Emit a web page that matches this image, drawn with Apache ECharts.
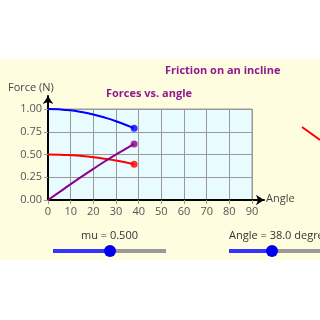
<!DOCTYPE html>
<html><head><meta charset="utf-8">
<script src="https://cdn.jsdelivr.net/npm/echarts@6/dist/echarts.min.js"></script>
<style>html,body{margin:0;padding:0;background:#fff}#c{width:320px;height:320px}</style>
</head><body><div id="c"></div>
<script>
const angles = [0, 5, 10, 15, 20, 25, 30, 35, 38];
const normalForce = [1.00, 0.996, 0.985, 0.966, 0.94, 0.906, 0.866, 0.819, 0.788];
const frictionForce = [0.50, 0.498, 0.492, 0.483, 0.47, 0.453, 0.433, 0.41, 0.394];
const gravityAlong = [0.00, 0.087, 0.174, 0.259, 0.342, 0.423, 0.50, 0.574, 0.616];
const xTicks = [0, 10, 20, 30, 40, 50, 60, 70, 80, 90];
const yTicks = [0, 0.25, 0.5, 0.75, 1.0];
const muValue = 0.5;
const angleValue = 38.0;
const inclineX = [0, 1];
const inclineY = [1, 0];

const font = '"Open Sans", sans-serif';
const purple = '#8e1a8e';
const pair = (xs, ys) => xs.map((x, i) => [x, ys[i]]);
const last = a => a[a.length - 1];

const chart = echarts.init(document.getElementById('c'));
chart.setOption({
  backgroundColor: '#ffffff',
  animation: false,
  graphic: [
    { type: 'rect', z: -10, shape: { x: 0, y: 59, width: 320, height: 201 }, style: { fill: '#fffde0' } },
    { type: 'text', left: 165, top: 65, style: { text: 'Friction on an incline', font: 'bold 11px ' + font, fill: purple } },
    { type: 'text', left: 106, top: 88, style: { text: 'Forces vs. angle', font: 'bold 11px ' + font, fill: purple } },
    { type: 'text', left: 8, top: 82, style: { text: 'Force (N)', font: '11px ' + font, fill: '#444' } },
    { type: 'text', left: 266, top: 193, style: { text: 'Angle', font: '11px ' + font, fill: '#444' } },
    { type: 'text', left: 81, top: 230, style: { text: 'mu = ' + muValue.toFixed(3), font: '11px ' + font, fill: '#333' } },
    { type: 'text', left: 229, top: 230, style: { text: 'Angle = ' + angleValue.toFixed(1) + ' degrees', font: '11px ' + font, fill: '#333' } },
    { type: 'rect', shape: { x: 53, y: 249, width: 113, height: 4 }, style: { fill: '#999' } },
    { type: 'rect', shape: { x: 53, y: 249, width: 57, height: 4 }, style: { fill: '#3333ff' } },
    { type: 'circle', shape: { cx: 110, cy: 251, r: 6 }, style: { fill: '#0000ee' } },
    { type: 'rect', shape: { x: 229, y: 249, width: 91, height: 4 }, style: { fill: '#999' } },
    { type: 'rect', shape: { x: 229, y: 249, width: 43, height: 4 }, style: { fill: '#3333ff' } },
    { type: 'circle', shape: { cx: 272, cy: 251, r: 6 }, style: { fill: '#0000ee' } }
  ],
  grid: [
    { left: 48, top: 109, width: 204, height: 91, show: true, backgroundColor: '#e8fbff', borderColor: '#999', borderWidth: 1 },
    { left: 48, top: 96, width: 216, height: 104 },
    { left: 302, top: 127, width: 18, height: 13 }
  ],
  xAxis: [
    { gridIndex: 0, type: 'value', min: 0, max: 90, interval: 10,
      axisLine: { show: false },
      axisTick: { show: true, length: 4, lineStyle: { color: '#999' } },
      axisLabel: { color: '#555', fontSize: 11, fontFamily: font, margin: 6 },
      splitLine: { show: true, lineStyle: { color: '#999', width: 1 } } },
    { gridIndex: 1, type: 'value', min: 0, max: 1, show: true,
      axisLine: { show: true, lineStyle: { color: '#000', width: 2 }, symbol: ['none', 'arrow'], symbolSize: [8, 8] },
      axisTick: { show: false }, axisLabel: { show: false }, splitLine: { show: false } },
    { gridIndex: 2, type: 'value', min: 0, max: 1, show: false }
  ],
  yAxis: [
    { gridIndex: 0, type: 'value', min: 0, max: 1, interval: 0.25,
      axisLine: { show: false },
      axisTick: { show: true, length: 4, lineStyle: { color: '#999' } },
      axisLabel: { color: '#555', fontSize: 11, fontFamily: font, margin: 6, formatter: v => v.toFixed(2) },
      splitLine: { show: true, lineStyle: { color: '#999', width: 1 } } },
    { gridIndex: 1, type: 'value', min: 0, max: 1, show: true,
      axisLine: { show: true, lineStyle: { color: '#000', width: 2 }, symbol: ['none', 'arrow'], symbolSize: [8, 8] },
      axisTick: { show: false }, axisLabel: { show: false }, splitLine: { show: false } },
    { gridIndex: 2, type: 'value', min: 0, max: 1, show: false }
  ],
  series: [
    { type: 'line', xAxisIndex: 0, yAxisIndex: 0, data: pair(angles, normalForce), smooth: true, showSymbol: false, lineStyle: { color: '#0000ff', width: 2 } },
    { type: 'line', xAxisIndex: 0, yAxisIndex: 0, data: pair(angles, frictionForce), smooth: true, showSymbol: false, lineStyle: { color: '#ff0000', width: 2 } },
    { type: 'line', xAxisIndex: 0, yAxisIndex: 0, data: pair(angles, gravityAlong), smooth: true, showSymbol: false, lineStyle: { color: '#8b008b', width: 2 } },
    { type: 'scatter', xAxisIndex: 0, yAxisIndex: 0, symbolSize: 7, z: 5,
      data: [
        { value: [last(angles), last(normalForce)], itemStyle: { color: '#0000ff' } },
        { value: [last(angles), last(frictionForce)], itemStyle: { color: '#ff0000' } },
        { value: [last(angles), last(gravityAlong)], itemStyle: { color: '#8b008b' } }
      ] },
    { type: 'line', xAxisIndex: 2, yAxisIndex: 2, data: pair(inclineX, inclineY), showSymbol: false, lineStyle: { color: '#ff0000', width: 2 } }
  ]
});
</script></body></html>
